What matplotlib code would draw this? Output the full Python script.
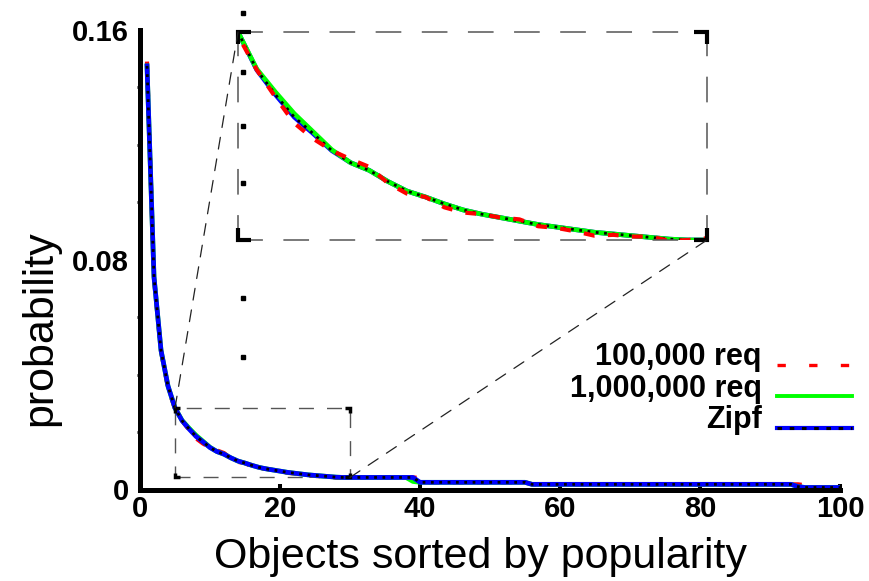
import matplotlib
matplotlib.use("Agg")
import matplotlib.pyplot as plt
from matplotlib.lines import Line2D
from matplotlib.patches import Rectangle, ConnectionPatch
from matplotlib.legend_handler import HandlerTuple, HandlerLine2D

plt.rcParams['font.family'] = ['Liberation Sans', 'DejaVu Sans']

# ---------------- data ----------------
ranks = list(range(1, 101))

zipf = [0.1475, 0.0740, 0.0485, 0.0360, 0.0284, 0.0240, 0.0211, 0.0185, 0.0166, 0.0146,
        0.0132, 0.0123, 0.0110, 0.0099, 0.0092, 0.0084, 0.0077, 0.0072, 0.0068, 0.0064,
        0.0060, 0.0057, 0.0054, 0.0051, 0.0049, 0.0047, 0.0045, 0.0043, 0.0042, 0.0042,
        0.0042, 0.0042, 0.0042, 0.0042, 0.0042, 0.0042, 0.0042, 0.0042, 0.0042, 0.0025,
        0.0025, 0.0025, 0.0025, 0.0025, 0.0025, 0.0025, 0.0025, 0.0025, 0.0025, 0.0025,
        0.0025, 0.0025, 0.0025, 0.0025, 0.0025, 0.0018, 0.0018, 0.0018, 0.0018, 0.0018,
        0.0018, 0.0018, 0.0018, 0.0018, 0.0018, 0.0018, 0.0018, 0.0018, 0.0018, 0.0018,
        0.0018, 0.0018, 0.0018, 0.0018, 0.0018, 0.0018, 0.0018, 0.0018, 0.0018, 0.0018,
        0.0018, 0.0018, 0.0018, 0.0018, 0.0018, 0.0018, 0.0018, 0.0018, 0.0018, 0.0018,
        0.0018, 0.0018, 0.0018, 0.0010, 0.0007, 0.0007, 0.0007, 0.0007, 0.0007, 0.0007]

req_1m = [0.1475, 0.0740, 0.0485, 0.0360, 0.0284, 0.0241, 0.0214, 0.0189, 0.0168, 0.0147,
          0.0132, 0.0123, 0.0110, 0.0099, 0.0092, 0.0084, 0.0077, 0.0072, 0.0068, 0.0064,
          0.0060, 0.0057, 0.0054, 0.0051, 0.0049, 0.0047, 0.0045, 0.0043, 0.0042, 0.0042,
          0.0042, 0.0042, 0.0042, 0.0042, 0.0042, 0.0042, 0.0042, 0.0042, 0.0028, 0.0025,
          0.0025, 0.0025, 0.0025, 0.0025, 0.0025, 0.0025, 0.0025, 0.0025, 0.0025, 0.0025,
          0.0025, 0.0025, 0.0025, 0.0025, 0.0025, 0.0018, 0.0018, 0.0018, 0.0018, 0.0018,
          0.0018, 0.0018, 0.0018, 0.0018, 0.0018, 0.0018, 0.0018, 0.0018, 0.0018, 0.0018,
          0.0018, 0.0018, 0.0018, 0.0018, 0.0018, 0.0018, 0.0018, 0.0018, 0.0018, 0.0018,
          0.0018, 0.0018, 0.0018, 0.0018, 0.0018, 0.0018, 0.0018, 0.0018, 0.0018, 0.0018,
          0.0018, 0.0018, 0.0018, 0.0010, 0.0007, 0.0007, 0.0007, 0.0007, 0.0007, 0.0007]

req_100k = [0.1490, 0.0735, 0.0482, 0.0355, 0.0280, 0.0240, 0.0208, 0.0178, 0.0160, 0.0146,
            0.0136, 0.0127, 0.0108, 0.0096, 0.0092, 0.0080, 0.0074, 0.0072, 0.0068, 0.0066,
            0.0058, 0.0056, 0.0052, 0.0047, 0.0048, 0.0046, 0.0046, 0.0041, 0.0042, 0.0044,
            0.0042, 0.0042, 0.0042, 0.0042, 0.0042, 0.0042, 0.0042, 0.0042, 0.0042, 0.0040,
            0.0025, 0.0025, 0.0025, 0.0025, 0.0025, 0.0025, 0.0025, 0.0025, 0.0025, 0.0025,
            0.0025, 0.0025, 0.0025, 0.0025, 0.0025, 0.0018, 0.0018, 0.0018, 0.0018, 0.0018,
            0.0018, 0.0018, 0.0018, 0.0018, 0.0018, 0.0018, 0.0018, 0.0018, 0.0018, 0.0018,
            0.0018, 0.0018, 0.0018, 0.0018, 0.0018, 0.0018, 0.0018, 0.0018, 0.0018, 0.0018,
            0.0018, 0.0018, 0.0018, 0.0018, 0.0018, 0.0018, 0.0018, 0.0018, 0.0018, 0.0018,
            0.0018, 0.0018, 0.0018, 0.0018, 0.0015, 0.0007, 0.0007, 0.0007, 0.0007, 0.0007]

labels = ["100,000 req", "1,000,000 req", "Zipf"]
x_ticks = [0, 20, 40, 60, 80, 100]
y_ticks = [0, 0.08, 0.16]
y_tick_labels = ["0", "0.08", "0.16"]
y_minor = [0.02, 0.04, 0.06, 0.10, 0.12, 0.14]
zoom_range = (5, 30)

# ---------------- figure ----------------
W, H = 870, 581
fig = plt.figure(figsize=(W / 100, H / 100), dpi=100)
ax = fig.add_axes([140 / W, 1 - 489.5 / H, 700 / W, 459.5 / H])

RED, GREEN, BLUE = '#ff0000', '#00ff00', '#0000ff'
red_ls = (0, (2.6, 3.2))
dot_ls = (0, (1, 2))


def draw_series(a, order):
    for key in order:
        if key == 'red':
            a.plot(ranks, req_100k, color=RED, lw=3.0, ls=red_ls, solid_capstyle='butt')
        elif key == 'green':
            a.plot(ranks, req_1m, color=GREEN, lw=3.4)
        elif key == 'blue':
            a.plot(ranks, zipf, color=BLUE, lw=3.4)
        elif key == 'dots':
            a.plot(ranks, zipf, color='black', lw=2.0, ls=dot_ls)


draw_series(ax, ['red', 'green', 'blue', 'dots'])

ax.set_xlim(0, 100)
ax.set_ylim(0, 0.16)
for s in ['top', 'right']:
    ax.spines[s].set_visible(False)
for s in ['left', 'bottom']:
    ax.spines[s].set_linewidth(3.6)
    ax.spines[s].set_capstyle('projecting')

ax.set_xticks(x_ticks)
ax.set_xticklabels([str(v) for v in x_ticks])
ax.set_yticks(y_ticks)
ax.set_yticklabels(y_tick_labels)
ax.set_yticks(y_minor, minor=True)
ax.tick_params(axis='x', which='major', direction='in', length=4.3, width=2.9,
               pad=4, labelsize=21)
ax.tick_params(axis='y', which='major', direction='out', length=0, pad=8,
               labelsize=21)
ax.tick_params(axis='y', which='minor', direction='out', length=2.5, width=2)
for t in ax.get_xticklabels() + ax.get_yticklabels():
    t.set_fontweight('bold')

ax.set_xlabel("Objects sorted by popularity", fontsize=31, va='top')
ax.xaxis.set_label_coords(0.487, -0.104)
ax.set_ylabel("probability", fontsize=31, va='center', ha='center')
ax.yaxis.set_label_coords(-0.143, 0.351)

# ---------------- zoom region ----------------
zx0, zx1 = zoom_range
zvals = [v for r, v in zip(ranks, zipf) if zx0 <= r <= zx1]
zy0, zy1 = min(zvals), max(zvals)

box_ls = (0, (10.8, 9.4))
rect = Rectangle((zx0, zy0), zx1 - zx0, zy1 - zy0, fill=False, ec='#555555',
                 lw=1.0, ls=box_ls, zorder=1)
ax.add_patch(rect)


def corners(a, trans, x0, x1, y0, y1, dx, dy, lw):
    for cx, cy, sx, sy in [(x0, y0, 1, 1), (x1, y0, -1, 1), (x0, y1, 1, -1), (x1, y1, -1, -1)]:
        a.plot([cx + sx * dx, cx, cx], [cy, cy, cy + sy * dy], color='black', lw=lw,
               transform=trans, clip_on=False, solid_capstyle='butt',
               solid_joinstyle='miter', zorder=5)


corners(ax, ax.transData, zx0, zx1, zy0, zy1, 0.7, 0.0017, 2.5)

# inset
axins = fig.add_axes([238 / W, 1 - 240 / H, 469 / W, 208 / H])
axins.patch.set_alpha(0)
draw_series(axins, ['blue', 'green', 'dots', 'red'])
axins.set_xlim(zx0, zx1)
axins.set_ylim(zy0, zy1)
axins.set_xticks([])
axins.set_yticks([])
for s in axins.spines.values():
    s.set_linestyle((0, (15.8, 14.4)))
    s.set_linewidth(1.1)
    s.set_edgecolor('#555555')
corners(axins, axins.transAxes, 0, 1, 0, 1, 13 / 469, 12 / 208, 3.0)

# small tick marks of the inset's left axis
inset_tick_pos = [1.091, 0.808, 0.548, 0.274, -0.279, -0.5625]
axins.plot([0.011] * len(inset_tick_pos), inset_tick_pos, 's', color='black', ms=2.6,
           transform=axins.transAxes, clip_on=False)

# connectors
for (xa, ya), (xb, yb) in [((zx0, zy1), (0, 1)), ((zx1, zy0), (1, 0))]:
    con = ConnectionPatch(xyA=(xa, ya), coordsA=ax.transData,
                          xyB=(xb, yb), coordsB=axins.transAxes,
                          color='#222222', lw=0.9, ls=(0, (9.5, 8)))
    fig.add_artist(con)


# ---------------- legend ----------------
class LowLine(HandlerLine2D):
    """Line sample drawn a little below the text centre (as in the original)."""
    def create_artists(self, legend, orig_handle, xdescent, ydescent, width,
                       height, fontsize, trans):
        return super().create_artists(legend, orig_handle, xdescent, ydescent + 15,
                                      width, height, fontsize, trans)


h_red = Line2D([], [], color=RED, lw=2.4, ls=(0, (2.5, 7)))
h_green = (Line2D([], [], color='black', lw=1.6, ls=(0, (1.2, 3))),
           Line2D([], [], color=GREEN, lw=2.8))
h_blue = (Line2D([], [], color=BLUE, lw=3.0),
          Line2D([], [], color='black', lw=2.2, ls=(0, (1.5, 2.5))))
leg = ax.legend([h_red, h_green, h_blue], labels, loc='upper right',
                bbox_to_anchor=(852 / W, 1 - 342 / H), bbox_transform=fig.transFigure,
                frameon=False, markerfirst=False, borderpad=0, borderaxespad=0,
                handlelength=2.45, handletextpad=0.5, labelspacing=0.05,
                prop={'size': 22, 'weight': 'bold'},
                handler_map={Line2D: LowLine(),
                             tuple: HandlerTuple(ndivide=1, pad=0)})
for t in leg.get_texts():
    t.set_ha('right')

fig.savefig("out.png", dpi=100)
